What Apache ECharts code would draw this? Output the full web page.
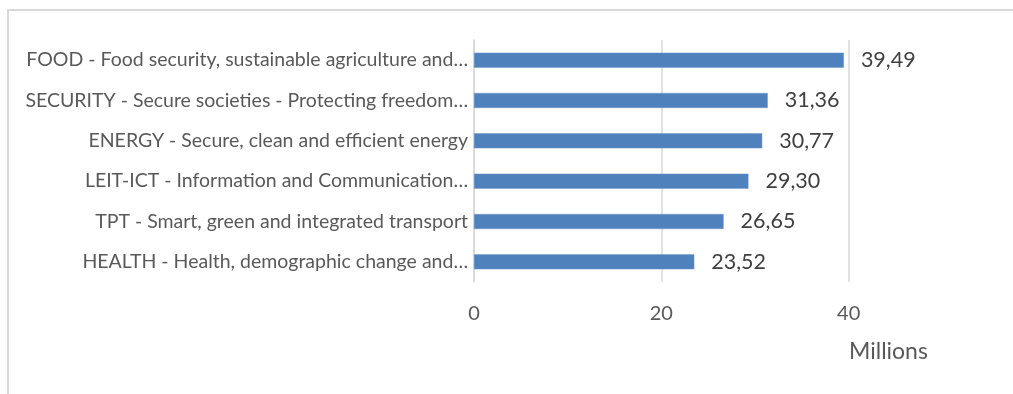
<!DOCTYPE html>
<html>
<head>
<meta charset="utf-8">
<title>Funding by programme</title>
<script src="https://cdn.jsdelivr.net/npm/echarts@6/dist/echarts.min.js"></script>
<style>
  html, body { margin: 0; padding: 0; background: #ffffff; }
  #chart { width: 1013px; height: 394px; }
</style>
</head>
<body>
<div id="chart"></div>
<script>
// Programme names, top to bottom
const categories = [
  'FOOD - Food security, sustainable agriculture and…',
  'SECURITY - Secure societies - Protecting freedom…',
  'ENERGY - Secure, clean and efficient energy',
  'LEIT-ICT - Information and Communication…',
  'TPT - Smart, green and integrated transport',
  'HEALTH - Health, demographic change and…'
];
// Amounts in millions
const values = [39.49, 31.36, 30.77, 29.30, 26.65, 23.52];
const unitLabel = 'Millions';

const FONT = 'Lato, "Open Sans", sans-serif';

const chart = echarts.init(document.getElementById('chart'), null, { renderer: 'canvas' });

chart.setOption({
  backgroundColor: '#ffffff',
  animation: false,
  // plot area runs past the right edge of the frame; the 60 gridline falls outside
  grid: {
    left: 474, top: 40, height: 242, width: 562,
    containLabel: false,
    outerBoundsMode: 'none'
  },
  xAxis: {
    type: 'value',
    min: 0,
    max: 60,
    interval: 20,
    axisLine: { show: false },
    axisTick: { show: false },
    splitLine: { show: true, lineStyle: { color: '#d9d9d9', width: 1.5 } },
    axisLabel: {
      color: '#595959',
      fontFamily: FONT,
      fontSize: 20,
      margin: 22
    }
  },
  yAxis: {
    type: 'category',
    inverse: true,
    data: categories,
    axisLine: { show: true, lineStyle: { color: '#d9d9d9', width: 1.5 } },
    axisTick: { show: false },
    axisLabel: {
      color: '#595959',
      fontFamily: FONT,
      fontSize: 19.5,
      margin: 6
    }
  },
  series: [{
    type: 'bar',
    data: values,
    barWidth: 15,
    itemStyle: { color: '#4f81bd', borderColor: '#6b96cc', borderWidth: 0.5 },
    label: {
      show: true,
      position: 'right',
      distance: 17,
      color: '#404040',
      fontFamily: FONT,
      fontSize: 21.5,
      formatter: p => p.value.toFixed(2).replace('.', ',')
    }
  }],
  graphic: [
    {
      type: 'rect',
      silent: true,
      shape: { x: 8, y: 10, width: 1100, height: 500 },
      style: { fill: 'none', stroke: '#d9d9d9', lineWidth: 2 }
    },
    {
      type: 'text',
      silent: true,
      left: 849,
      top: 340,
      style: {
        text: unitLabel,
        fill: '#595959',
        font: '23px ' + FONT
      }
    }
  ]
});
</script>
</body>
</html>
